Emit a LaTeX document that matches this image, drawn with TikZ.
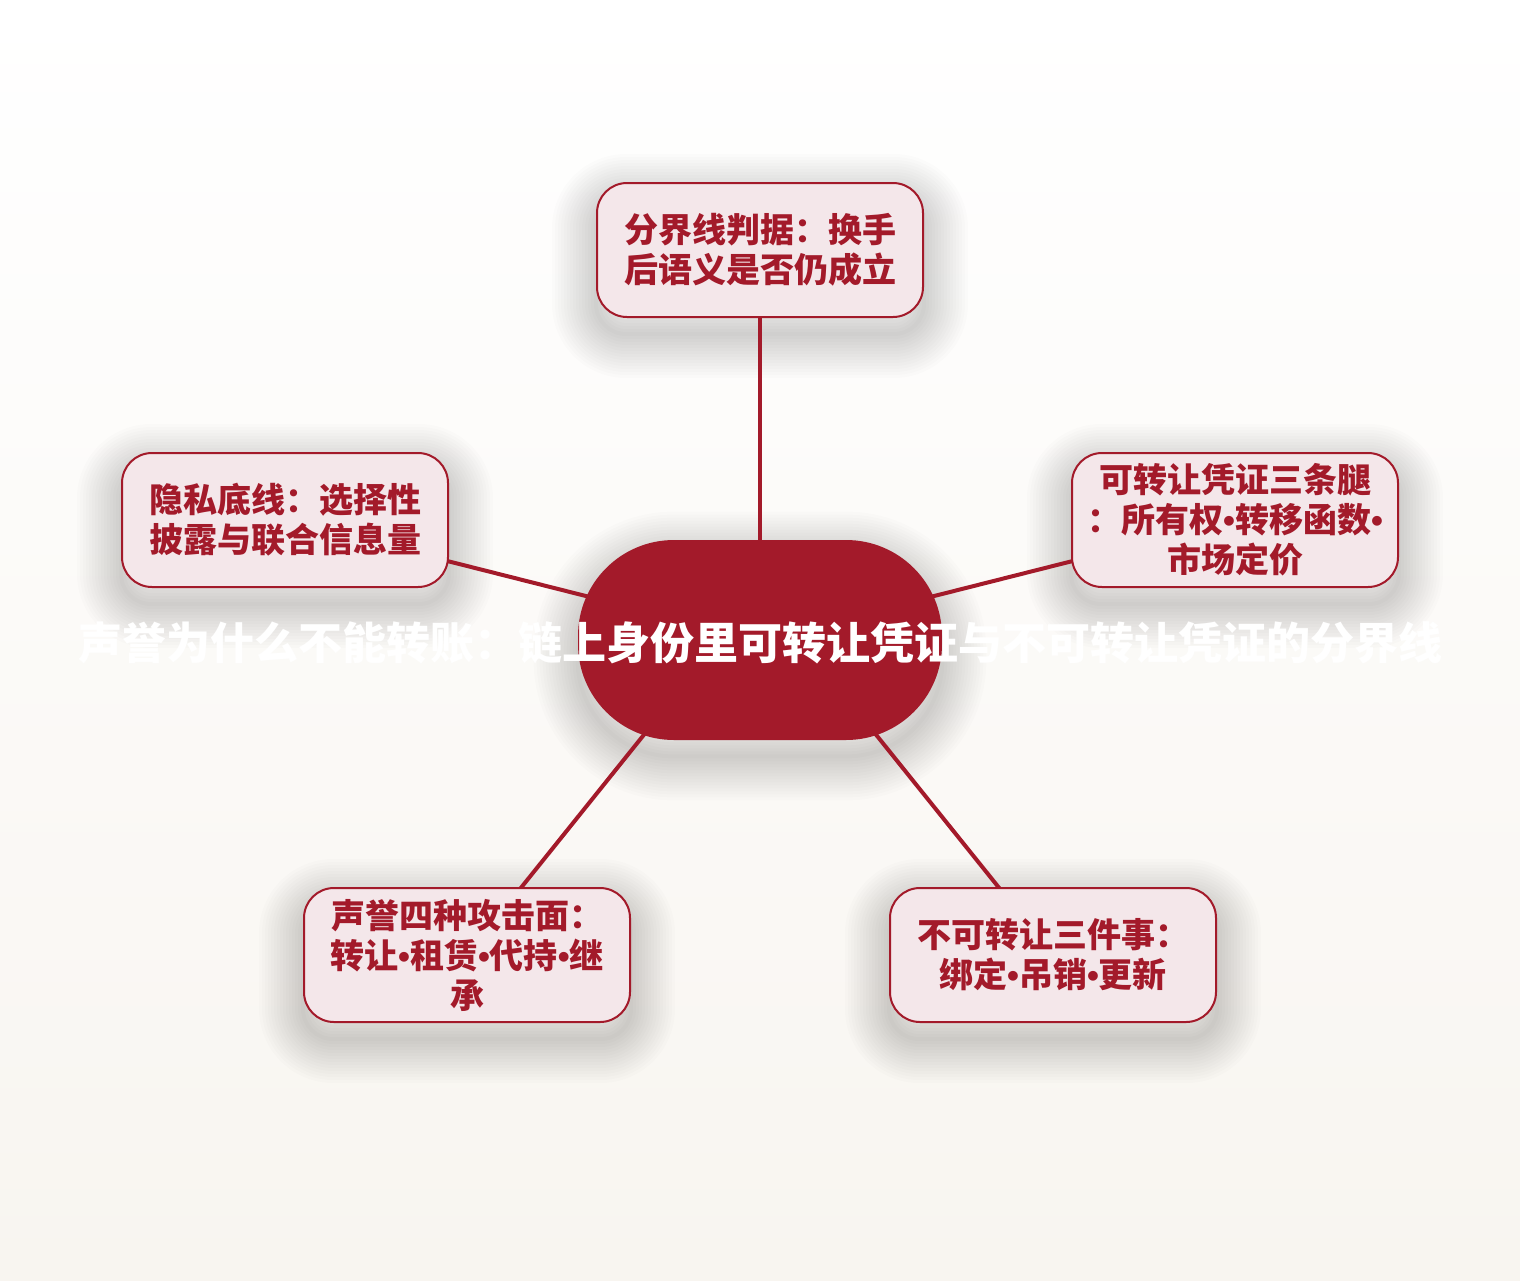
\documentclass[tikz,border=0pt]{standalone}
\usepackage{fontspec}
\setmainfont{Noto Sans CJK SC}
\newfontfamily\latin{Liberation Sans}
\newcommand\bul{{\latin\bfseries •}}
\usetikzlibrary{backgrounds}

\definecolor{crimson}{RGB}{163,26,42}
\definecolor{blush}{RGB}{244,231,234}
\definecolor{paper}{RGB}{248,245,240}

\begin{document}
\begin{tikzpicture}[x=0.5pt, y=-0.5pt,
  topic/.style={draw=crimson, line width=1pt, fill=blush, rounded corners=15pt,
    minimum width=163pt, minimum height=67pt, align=center, text=crimson,
    font=\bfseries\fontsize{17}{20}\selectfont},
  hub/.style={fill=crimson, rounded corners=48pt, minimum width=182pt,
    minimum height=100pt},
  title/.style={text=white, font=\bfseries\fontsize{22}{26}\selectfont},
  link/.style={draw=crimson, line width=2pt, line cap=round}]

  \useasboundingbox (0,0) rectangle (1520,1280);

  \node (Hub) at (760,640) [hub] {};
  \node (Title) at (760,643) [title]
    {声誉为什么不能转账：链上身份里可转让凭证与不可转让凭证的分界线};

  \node (Test) at (760,250) [topic] {分界线判据：换手\\后语义是否仍成立};
  \node (Privacy) at (285,520) [topic] {隐私底线：选择性\\披露与联合信息量};
  \node (Legs) at (1235,520) [topic] {可转让凭证三条腿\\：所有权\bul 转移函数\bul\\市场定价};
  \node (Attack) at (467,955) [topic] {声誉四种攻击面：\\转让\bul 租赁\bul 代持\bul 继\\承};
  \node (Untrans) at (1053,955) [topic] {不可转让三件事：\\绑定\bul 吊销\bul 更新};

  \begin{scope}[on background layer]
    \shade[top color=white, bottom color=paper] (0,0) rectangle (1520,1280);
    % soft shadows
    \foreach \n/\rc in {Test/15,Privacy/15,Legs/15,Attack/15,Untrans/15,Hub/48}
      \foreach \r in {1,2.5,...,23}
        \draw[black, opacity=0.01, line width=2*\r pt, line join=round,
          rounded corners=\rc pt]
          ([yshift=-8pt]\n.south west) rectangle ([yshift=-8pt]\n.north east);
    \draw[link] (Hub.center) -- (Test.center);
    \draw[link] (Hub.center) -- (Privacy.center);
    \draw[link] (Hub.center) -- (Legs.center);
    \draw[link] ([xshift=-20pt]Hub.center) -- (Attack.center);
    \draw[link] ([xshift=20pt]Hub.center) -- (Untrans.center);
  \end{scope}
\end{tikzpicture}
\end{document}
